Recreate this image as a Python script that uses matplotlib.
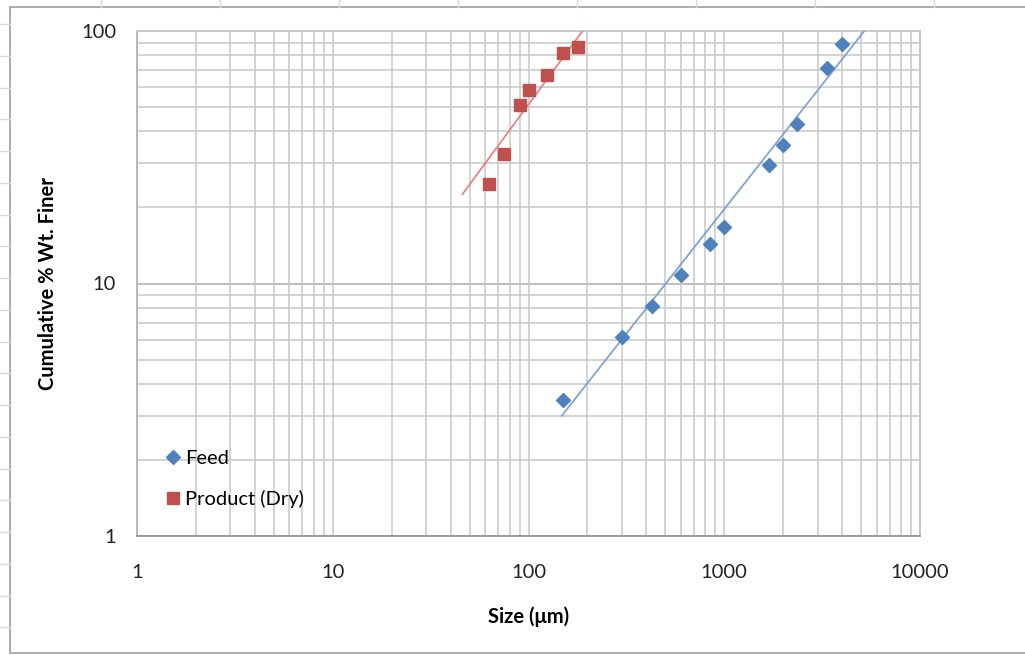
import numpy as np
import matplotlib
matplotlib.use('Agg')
from matplotlib import pyplot as plt
from matplotlib.lines import Line2D
from matplotlib.patches import Rectangle

plt.rcParams['font.family'] = ['Lato', 'DejaVu Sans']

# sieve sizes (um) and cumulative % finer
feed_size = [150, 300, 425, 600, 850, 1000, 1700, 2000, 2360, 3350, 4000]
feed_pct = [3.46, 6.12, 8.15, 10.8, 14.3, 16.8, 29.5, 35.4, 42.7, 71.2, 88.8]

prod_size = [63, 75, 90, 100, 125, 150, 180]
prod_pct = [24.8, 32.7, 50.8, 58.4, 66.9, 82.0, 86.2]

# power trendlines y = a * x^b, as shown in the sheet, and their extents
feed_trend = (0.0217, 0.986)
prod_trend = (0.400, 1.0535)
feed_trend_range = [148, 5450]
prod_trend_range = [46, 192]

blue = '#4f81bd'
red = '#c0504d'

fig = plt.figure(figsize=(10.25, 6.55), dpi=100)
fig.patch.set_facecolor('white')

# spreadsheet behind the chart
for yy in np.arange(24, 655, 31.75):
    fig.add_artist(Line2D([0, 10 / 1025], [1 - yy / 655] * 2, color='#d9d9d9', lw=1))
for xx in np.arange(101, 1025, 119):
    fig.add_artist(Line2D([xx / 1025] * 2, [1, 1 - 7 / 655], color='#d9d9d9', lw=1))
fig.add_artist(Rectangle((10 / 1025, 1 - 653 / 655), 1.1, (653 - 7) / 655,
                         transform=fig.transFigure, facecolor='white',
                         edgecolor='#a6a6a6', lw=1.3, zorder=0))

ax = fig.add_axes([137 / 1025, 1 - 536 / 655, (920 - 137) / 1025, (536 - 31) / 655])
ax.set_xscale('log')
ax.set_yscale('log')
ax.set_xlim(1, 10000)
ax.set_ylim(1, 100)

ax.grid(True, which='both', color='#c8c8c8', lw=1.1)
ax.axhline(10, color='#8c8c8c', lw=1.1, zorder=1)
for s in ['top', 'right']:
    ax.spines[s].set_color('#c8c8c8')
    ax.spines[s].set_linewidth(1.4)
ax.spines['left'].set_color('#b0b0b0')
ax.spines['left'].set_linewidth(1.2)
ax.spines['bottom'].set_color('#8c8c8c')
ax.spines['bottom'].set_linewidth(1.2)

ax.set_xticks([1, 10, 100, 1000, 10000])
ax.set_xticklabels(['1', '10', '100', '1000', '10000'])
ax.set_yticks([1, 10, 100])
ax.set_yticklabels(['1', '10', '100'])
ax.tick_params(which='both', length=0)
ax.tick_params(axis='x', pad=20, labelsize=14.5, colors='#222222')
ax.tick_params(axis='y', pad=15, labelsize=14.5, colors='#222222')

# trendlines
for (a, b), rng, col in [(feed_trend, feed_trend_range, '#7fa3d4'),
                         (prod_trend, prod_trend_range, '#e08585')]:
    xs = np.array(rng, dtype=float)
    ax.plot(xs, a * xs ** b, color=col, lw=1.3, zorder=3)

ax.plot(feed_size, feed_pct, 'D', color=blue, ms=7.5, mec=blue, label='Feed', zorder=4)
ax.plot(prod_size, prod_pct, 's', color=red, ms=8.5, mec=red, label='Product (Dry)', zorder=4)

leg = ax.legend(loc='lower left', bbox_to_anchor=(0.013, 0.02), frameon=False,
                fontsize=14.5, numpoints=1, handlelength=0.8, handletextpad=0.2,
                labelspacing=1.15)

ax.set_xlabel('Size (μm)', fontsize=14.5, fontweight='bold')
ax.xaxis.set_label_coords(0.5, -0.14)
ax.set_ylabel('Cumulative % Wt. Finer', fontsize=14.5, fontweight='bold')
ax.yaxis.set_label_coords(-0.101, 0.5)

fig.savefig('out.png', dpi=100, facecolor='white')
